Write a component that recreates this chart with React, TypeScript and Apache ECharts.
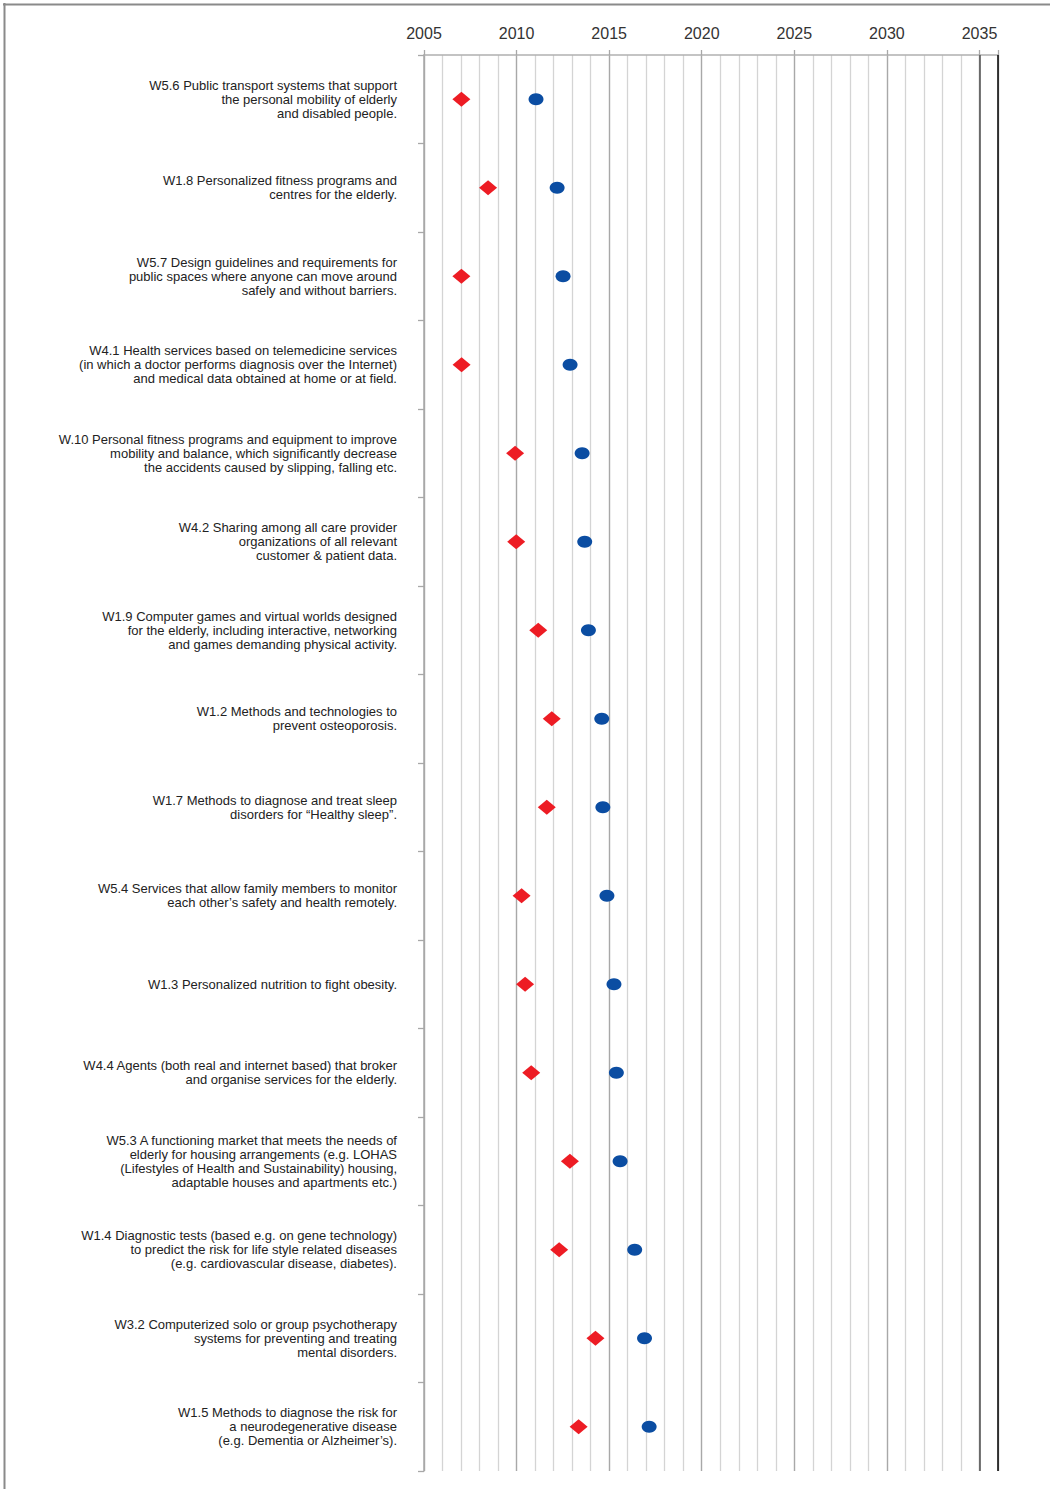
import React, { useEffect, useRef } from "react";
import * as echarts from "echarts";

const categories: string[] = [
  "W5.6 Public transport systems that support\nthe personal mobility of elderly\nand disabled people.",
  "W1.8 Personalized fitness programs and\ncentres for the elderly.",
  "W5.7 Design guidelines and requirements for\npublic spaces where anyone can move around\nsafely and without barriers.",
  "W4.1 Health services based on telemedicine services\n(in which a doctor performs diagnosis over the Internet)\nand medical data obtained at home or at field.",
  "W.10 Personal fitness programs and equipment to improve\nmobility and balance, which significantly decrease\nthe accidents caused by slipping, falling etc.",
  "W4.2 Sharing among all care provider\norganizations of all relevant\ncustomer & patient data.",
  "W1.9 Computer games and virtual worlds designed\nfor the elderly, including interactive, networking\nand games demanding physical activity.",
  "W1.2 Methods and technologies to\nprevent osteoporosis.",
  "W1.7 Methods to diagnose and treat sleep\ndisorders for \u201cHealthy sleep\u201d.",
  "W5.4 Services that allow family members to monitor\neach other\u2019s safety and health remotely.",
  "W1.3 Personalized nutrition to fight obesity.",
  "W4.4 Agents (both real and internet based) that broker\nand organise services for the elderly.",
  "W5.3 A functioning market that meets the needs of\nelderly for housing arrangements (e.g. LOHAS\n(Lifestyles of Health and Sustainability) housing,\nadaptable houses and apartments etc.)",
  "W1.4 Diagnostic tests (based e.g. on gene technology)\nto predict the risk for life style related diseases\n(e.g. cardiovascular disease, diabetes).",
  "W3.2 Computerized solo or group psychotherapy\nsystems for preventing and treating\nmental disorders.",
  "W1.5 Methods to diagnose the risk for\na neurodegenerative disease\n(e.g. Dementia or Alzheimer\u2019s).",
];

const redValues: number[] = [
  2007.02, 2008.46, 2007.02, 2007.03, 2009.92, 2009.98, 2011.17, 2011.9,
  2011.63, 2010.27, 2010.46, 2010.79, 2012.88, 2012.3, 2014.26, 2013.35,
];

const blueValues: number[] = [
  2011.05, 2012.19, 2012.51, 2012.89, 2013.54, 2013.68, 2013.88, 2014.6,
  2014.66, 2014.88, 2015.26, 2015.39, 2015.59, 2016.38, 2016.91, 2017.16,
];

const yearMin = 2005;
const yearMax = 2036;
const highlightYears: number[] = [2035];
const endYear: number[] = [2036];

const FONT = "'Liberation Sans', Arial, Helvetica, sans-serif";

export default function App() {
  const ref = useRef<HTMLDivElement>(null);

  useEffect(() => {
    if (!ref.current) return;
    const chart = echarts.init(ref.current, undefined, { renderer: "svg" });

    const markLineData: any[] = [
      ...highlightYears.map((y) => ({
        xAxis: y,
        lineStyle: { color: "#5a5a5a", width: 1.6, type: "solid" },
      })),
      ...endYear.map((y) => ({
        xAxis: y,
        lineStyle: { color: "#111111", width: 1.6, type: "solid" },
      })),
    ];

    chart.setOption({
      animation: false,
      backgroundColor: "#ffffff",
      grid: { left: 424, right: 52, top: 55, bottom: 18, containLabel: false },
      xAxis: [
        {
          type: "value",
          position: "top",
          min: yearMin,
          max: yearMax,
          interval: 1,
          axisLine: { show: true, lineStyle: { color: "#b0b0b0", width: 1.5 } },
          axisTick: { show: false },
          axisLabel: { show: false },
          splitLine: { show: true, lineStyle: { color: "#d4d4d4", width: 1.3 } },
        },
        {
          type: "value",
          position: "top",
          min: yearMin,
          max: yearMax,
          interval: 5,
          axisLine: { show: false },
          axisTick: { show: true, length: 5, lineStyle: { color: "#a8a8a8", width: 1.3 } },
          axisLabel: {
            show: true,
            margin: 14,
            fontSize: 16,
            color: "#333333",
            fontFamily: FONT,
            formatter: (v: number) => (v % 5 === 0 ? String(v) : ""),
          },
          splitLine: { show: true, lineStyle: { color: "#a8a8a8", width: 1.3 } },
        },
      ],
      yAxis: {
        type: "category",
        inverse: true,
        data: categories,
        axisLine: { show: true, lineStyle: { color: "#a8a8a8", width: 1.5 } },
        axisTick: { show: true, length: 6, lineStyle: { color: "#a8a8a8", width: 1.3 } },
        axisLabel: {
          margin: 27,
          fontSize: 13,
          lineHeight: 14,
          color: "#222222",
          fontFamily: FONT,
          align: "right",
        },
        splitLine: { show: false },
      },
      graphic: [
        {
          type: "line",
          shape: { x1: 3, y1: 4.5, x2: 1050, y2: 4.5 },
          style: { stroke: "#8a8a8a", lineWidth: 2 },
          z: 100,
        },
        {
          type: "line",
          shape: { x1: 4.5, y1: 3, x2: 4.5, y2: 1489 },
          style: { stroke: "#8a8a8a", lineWidth: 2 },
          z: 100,
        },
      ],
      series: [
        {
          type: "scatter",
          xAxisIndex: 0,
          symbol: "diamond",
          symbolSize: [18, 15],
          itemStyle: { color: "#ed1c24", opacity: 1 },
          data: redValues.map((v, i) => [v, i]),
          z: 5,
          markLine: {
            silent: true,
            symbol: ["none", "none"],
            label: { show: false },
            data: markLineData,
            z: 1,
          },
        },
        {
          type: "scatter",
          xAxisIndex: 0,
          symbol: "circle",
          symbolSize: [15, 12],
          itemStyle: { color: "#0b4da2", opacity: 1 },
          data: blueValues.map((v, i) => [v, i]),
          z: 5,
        },
      ],
    });

    return () => chart.dispose();
  }, []);

  return (
    <div
      ref={ref}
      style={{ position: "absolute", left: 0, top: 0, width: 1050, height: 1489 }}
    />
  );
}
